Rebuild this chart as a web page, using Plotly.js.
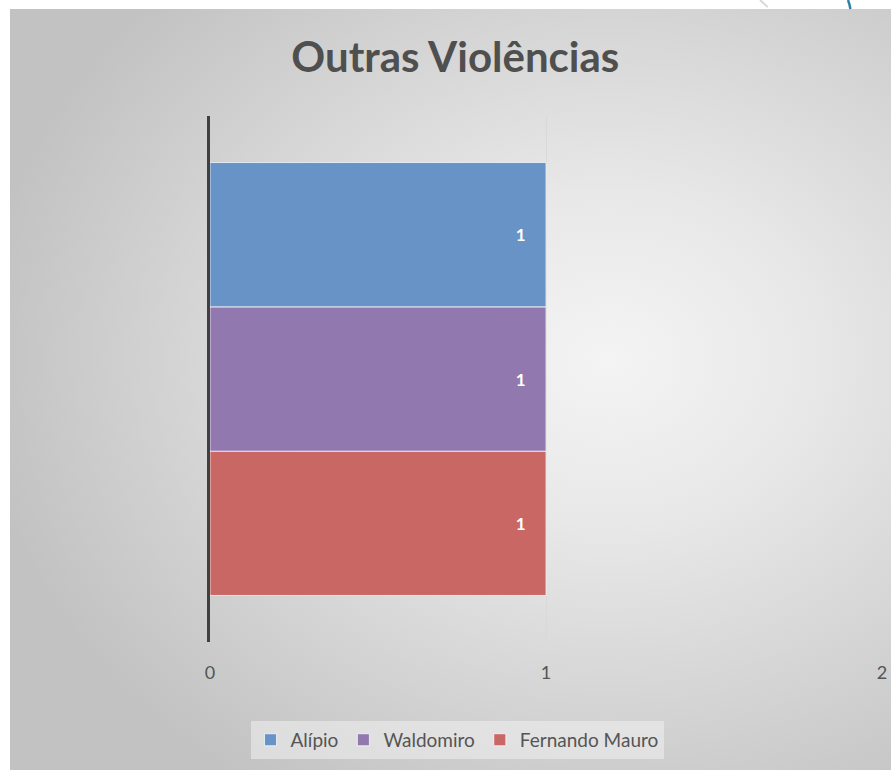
<!DOCTYPE html>
<html><head><meta charset="utf-8">
<script src="https://cdn.plot.ly/plotly-3.0.1.min.js"></script>
<style>
html,body{margin:0;padding:0;background:#fff;width:891px;height:770px;overflow:hidden;}
#bg{position:absolute;left:10px;top:9px;width:881px;height:761px;
 background:radial-gradient(ellipse 72% 68% at 68% 46%, #f4f4f4 0%, #e8e8e8 32%, #d4d4d4 68%, #c2c2c2 100%);}
#chart{position:absolute;left:0;top:0;width:891px;height:770px;}
</style></head>
<body><div id="bg"></div><div id="chart"></div>
<script>
const category = ["Outras Violências"];
const seriesNames = ["Fernando Mauro", "Waldomiro", "Alípio"];
const fernandoMauro = [1];
const waldomiro = [1];
const alipio = [1];
const xTicks = [0, 1, 2];
const colors = {"Alípio": "#6893c6", "Waldomiro": "#9179b0", "Fernando Mauro": "#c86764"};
const values = {"Fernando Mauro": fernandoMauro, "Waldomiro": waldomiro, "Alípio": alipio};

const traces = seriesNames.map(n => ({
  type: 'bar', orientation: 'h', name: n,
  y: category, x: values[n],
  marker: {color: colors[n], line: {color: 'rgba(255,255,255,0.7)', width: 1}},
  textposition: 'inside', insidetextanchor: 'end',
  texttemplate: '<b>%{x}</b>    ',
  textfont: {color: '#ffffff', size: 17, family: 'Lato, sans-serif'},
  hoverinfo: 'x+name'
}));

const layout = {
  width: 891, height: 770,
  paper_bgcolor: 'rgba(0,0,0,0)', plot_bgcolor: 'rgba(0,0,0,0)',
  margin: {l: 210, r: 9, t: 116, b: 128},
  title: {text: '<b>Outras Violências</b>', x: 0.511, xanchor: 'center', y: 0.925, yanchor: 'middle',
          font: {family: 'Lato, sans-serif', size: 42, color: '#4f4f4f'}},
  barmode: 'group', bargap: 0.177, bargroupgap: 0,
  xaxis: {range: [0, 2], tickvals: xTicks, ticktext: xTicks.map(String), showgrid: true,
          gridcolor: '#d9d9d9', gridwidth: 1, zeroline: false, showline: false, ticks: '',
          tickfont: {family: 'Lato, sans-serif', size: 18, color: '#555555'}, ticklabelstandoff: 18},
  yaxis: {showticklabels: false, showline: true, linecolor: '#404040', linewidth: 3, ticks: '',
          showgrid: false, zeroline: false},
  showlegend: true,
  legend: {orientation: 'h', x: 0.3676, xanchor: 'center', y: -0.15, yanchor: 'top', traceorder: 'reversed',
           bgcolor: 'rgba(240,240,240,0.55)', font: {family: 'Lato, sans-serif', size: 19, color: '#555555'},
           itemwidth: 30},
  shapes: [
    {type: 'path', xref: 'paper', yref: 'paper', path: 'M 0.9494 1.2205 Q 0.952 1.212 0.9530 1.2034', line: {color: '#2f7fa6', width: 2.5}},
    {type: 'line', xref: 'paper', yref: 'paper', x0: 0.8185, y0: 1.2205, x1: 0.8300, y1: 1.2070, line: {color: '#d8d8d8', width: 2}}
  ]
};
Plotly.newPlot('chart', traces, layout, {displayModeBar: false, staticPlot: true});
</script></body></html>
